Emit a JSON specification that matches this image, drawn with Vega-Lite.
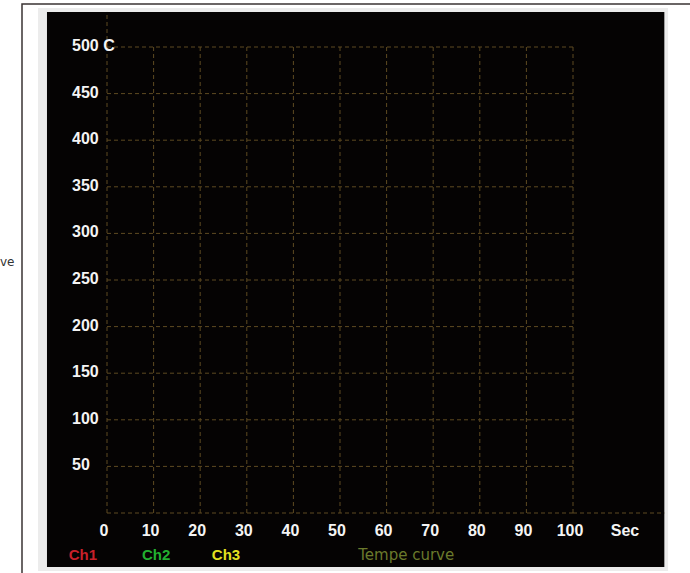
{
  "$schema": "https://vega.github.io/schema/vega-lite/v6.json",
  "width": 466,
  "height": 466,
  "autosize": {"type": "none"},
  "padding": {"left": 107, "top": 47, "right": 117, "bottom": 60},
  "background": "white",
  "config": {"view": {"stroke": null}},
  "datasets": {
    "xticks": [{"t": 0}, {"t": 10}, {"t": 20}, {"t": 30}, {"t": 40}, {"t": 50}, {"t": 60}, {"t": 70}, {"t": 80}, {"t": 90}, {"t": 100}],
    "yticks": [{"v": 0}, {"v": 50}, {"v": 100}, {"v": 150}, {"v": 200}, {"v": 250}, {"v": 300}, {"v": 350}, {"v": 400}, {"v": 450}, {"v": 500}],
    "series": [
      {"label": "Ch1", "t": -8.2, "v": -45.5},
      {"label": "Ch2", "t": 7.5, "v": -45.5},
      {"label": "Ch3", "t": 22.5, "v": -45.5},
      {"label": "Tempe curve", "t": 53.9, "v": -45.5}
    ]
  },
  "layer": [
    {
      "data": {"values": [{"k": "frame"}]},
      "mark": {"type": "rect", "fill": "white", "stroke": "#3a3333", "strokeWidth": 1.5, "clip": false},
      "encoding": {
        "x": {"datum": -18.24, "type": "quantitative", "scale": {"domain": [0, 100], "nice": false, "zero": false}, "axis": null},
        "x2": {"datum": 130},
        "y": {"datum": 546.1, "type": "quantitative", "scale": {"domain": [0, 500], "nice": false, "zero": false}, "axis": null},
        "y2": {"datum": -100}
      }
    },
    {
      "data": {"values": [{"k": "bezel"}]},
      "mark": {"type": "rect", "fill": "#ececec", "clip": false},
      "encoding": {
        "x": {"datum": -14.8, "type": "quantitative", "axis": null},
        "x2": {"datum": 120.4},
        "y": {"datum": 541.8, "type": "quantitative", "axis": null},
        "y2": {"datum": -62.2}
      }
    },
    {
      "data": {"values": [{"k": "panel"}]},
      "mark": {"type": "rect", "fill": "#050303", "clip": false},
      "encoding": {
        "x": {"datum": -12.88, "type": "quantitative", "axis": null},
        "x2": {"datum": 119.6},
        "y": {"datum": 537.6, "type": "quantitative", "axis": null},
        "y2": {"datum": -57.9}
      }
    },
    {
      "data": {"name": "xticks"},
      "mark": {"type": "rule", "stroke": "#5e4a22", "strokeWidth": 1, "strokeDash": [4, 3], "clip": false},
      "encoding": {
        "x": {"field": "t", "type": "quantitative", "axis": null},
        "y": {"datum": 0, "type": "quantitative", "axis": null},
        "y2": {"datum": 500}
      }
    },
    {
      "data": {"values": [{"t": 0}]},
      "mark": {"type": "rule", "stroke": "#5e4a22", "strokeWidth": 1, "strokeDash": [4, 3], "clip": false},
      "encoding": {
        "x": {"field": "t", "type": "quantitative", "axis": null},
        "y": {"datum": 500, "type": "quantitative", "axis": null},
        "y2": {"datum": 537.6}
      }
    },
    {
      "data": {"name": "yticks"},
      "mark": {"type": "rule", "stroke": "#5e4a22", "strokeWidth": 1, "strokeDash": [4, 3], "clip": false},
      "encoding": {
        "y": {"field": "v", "type": "quantitative", "axis": null},
        "x": {"datum": 0, "type": "quantitative", "axis": null},
        "x2": {"datum": 100}
      }
    },
    {
      "data": {"values": [{"v": 0}]},
      "mark": {"type": "rule", "stroke": "#5e4a22", "strokeWidth": 1, "strokeDash": [4, 3], "clip": false},
      "encoding": {
        "y": {"field": "v", "type": "quantitative", "axis": null},
        "x": {"datum": 100, "type": "quantitative", "axis": null},
        "x2": {"datum": 119.6}
      }
    },
    {
      "data": {"name": "xticks"},
      "mark": {"type": "text", "align": "center", "baseline": "middle", "dx": -3, "fontSize": 16, "fontWeight": "bold", "font": "Liberation Sans, Arial, sans-serif", "color": "#f4f4f4", "clip": false},
      "encoding": {
        "x": {"field": "t", "type": "quantitative", "axis": null},
        "y": {"datum": -19.3, "type": "quantitative", "axis": null},
        "text": {"field": "t", "type": "quantitative"}
      }
    },
    {
      "data": {"values": [{"unit": "Sec"}]},
      "mark": {"type": "text", "align": "center", "baseline": "middle", "dx": -3, "fontSize": 16, "fontWeight": "bold", "font": "Liberation Sans, Arial, sans-serif", "color": "#f4f4f4", "clip": false},
      "encoding": {
        "x": {"datum": 111.8, "type": "quantitative", "axis": null},
        "y": {"datum": -19.3, "type": "quantitative", "axis": null},
        "text": {"field": "unit"}
      }
    },
    {
      "data": {"name": "yticks"},
      "transform": [{"filter": "datum.v > 0"}],
      "mark": {"type": "text", "align": "left", "baseline": "middle", "dy": -1, "fontSize": 16, "fontWeight": "bold", "font": "Liberation Sans, Arial, sans-serif", "color": "#f4f4f4", "clip": false},
      "encoding": {
        "y": {"field": "v", "type": "quantitative", "axis": null},
        "x": {"datum": -7.51, "type": "quantitative", "axis": null},
        "text": {"condition": {"test": "datum.v == 500", "value": "500 C"}, "field": "v", "type": "quantitative"}
      }
    },
    {
      "data": {"name": "series"},
      "mark": {"type": "text", "align": "left", "baseline": "middle", "fontSize": 15, "fontWeight": "bold", "font": "Liberation Sans, Arial, sans-serif", "clip": false},
      "transform": [{"filter": "datum.label != 'Tempe curve'"}],
      "encoding": {
        "x": {"field": "t", "type": "quantitative", "axis": null},
        "y": {"field": "v", "type": "quantitative", "axis": null},
        "text": {"field": "label"},
        "color": {
          "field": "label", "type": "nominal", "legend": null,
          "scale": {"domain": ["Ch1", "Ch2", "Ch3", "Tempe curve"], "range": ["#c8202a", "#22b030", "#e2e020", "#6b7a2c"]}
        }
      }
    },
    {
      "data": {"name": "series"},
      "mark": {"type": "text", "align": "left", "baseline": "middle", "fontSize": 15, "font": "DejaVu Sans, Verdana, sans-serif", "clip": false},
      "transform": [{"filter": "datum.label == 'Tempe curve'"}],
      "encoding": {
        "x": {"field": "t", "type": "quantitative", "axis": null},
        "y": {"field": "v", "type": "quantitative", "axis": null},
        "text": {"field": "label"},
        "color": {"field": "label", "type": "nominal", "legend": null}
      }
    },
    {
      "data": {"values": [{"label": "ve", "t": -22.96, "v": 269.3}]},
      "mark": {"type": "text", "align": "left", "baseline": "middle", "fontSize": 12, "font": "DejaVu Sans, sans-serif", "color": "#333333", "clip": false},
      "encoding": {
        "x": {"field": "t", "type": "quantitative", "axis": null},
        "y": {"field": "v", "type": "quantitative", "axis": null},
        "text": {"field": "label"}
      }
    }
  ]
}
